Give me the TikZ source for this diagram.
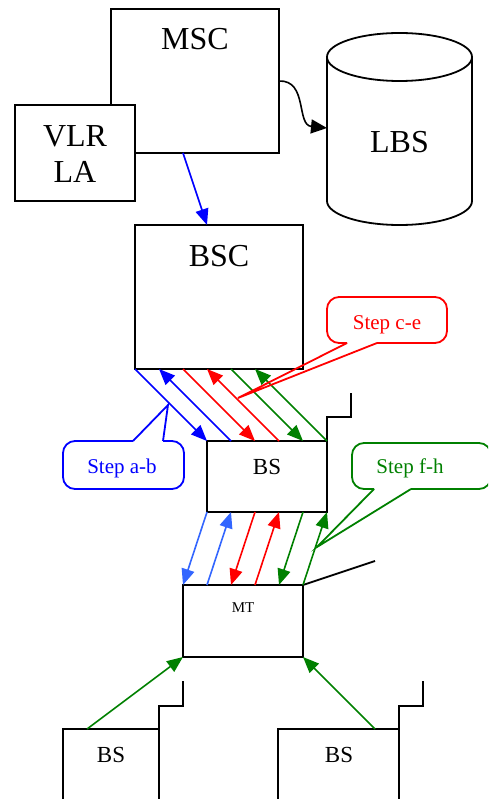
\documentclass[tikz,border=0pt]{standalone}
\usepackage{fontspec}
\setmainfont{Liberation Serif}
\usetikzlibrary{arrows.meta}
\definecolor{cblue}{RGB}{0,0,255}
\definecolor{clblue}{RGB}{51,102,255}
\definecolor{cred}{RGB}{255,0,0}
\definecolor{cgreen}{RGB}{0,128,0}
\begin{document}
\begin{tikzpicture}[x=1pt,y=-1pt,
  box/.style={draw, line width=1.8pt, inner sep=0pt, outer sep=0pt},
  big/.style={font=\fontsize{32}{36}\selectfont, inner sep=0pt, anchor=base},
  mid/.style={font=\fontsize{23}{26}\selectfont, inner sep=0pt, anchor=base},
  small/.style={font=\fontsize{15}{18}\selectfont, inner sep=0pt, anchor=base},
  calltxt/.style={font=\fontsize{21}{24}\selectfont, inner sep=0pt, anchor=base},
  conn/.style={line width=1.6pt, -{Triangle[length=16pt,width=13pt]}},
  callout/.style={line width=1.8pt, rounded corners=12pt},
  pointer/.style={line width=1.8pt, line join=miter},
  antenna/.style={line width=1.8pt}
]
\useasboundingbox (0,0) rectangle (488,799);
\clip (0,0) rectangle (488,799);

% ---- boxes ----
\node[box, minimum width=168pt, minimum height=144pt] (msc) at (195,81) {};
\node[box, fill=white, minimum width=120pt, minimum height=96pt] (vlr) at (75,153) {};
\node[box, minimum width=168pt, minimum height=144pt] (bsc) at (219,297) {};
\node[box, minimum width=120pt, minimum height=71pt] (bs) at (267,476.5) {};
\node[box, minimum width=120pt, minimum height=72pt] (mt) at (243,621) {};
\node[box, minimum width=96pt, minimum height=101pt] (bsa) at (111,779.5) {};
\node[box, minimum width=121pt, minimum height=101pt] (bsb) at (338.5,779.5) {};

% ---- LBS cylinder ----
\draw[line width=1.8pt] (327,57) -- (327,201)
  arc[start angle=180, end angle=360, x radius=72.5pt, y radius=24pt] -- (472,57);
\draw[line width=1.8pt] (399.5,57) ellipse [x radius=72.5pt, y radius=24pt];
\coordinate (lbsin) at (327,128);

% ---- labels ----
\node[big] (msct) at (195,50) {MSC};
\node[big] (vlrt) at (75,147) {VLR};
\node[big] (lat) at (75,183) {LA};
\node[big] (lbst) at (399.5,153) {LBS};
\node[big] (bsct) at (219,266) {BSC};
\node[mid] (bst) at (267,474) {BS};
\node[small] (mtt) at (243,612) {MT};
\node[mid] (bsat) at (111,762) {BS};
\node[mid] (bsbt) at (339,762) {BS};

% ---- antennas ----
\draw[antenna] (bs.north east) |- (351,417) -- (351,393);
\draw[antenna] (bsa.north east) |- (183,706) -- (183,681);
\draw[antenna] (bsb.north east) |- (423,706) -- (423,681);
\coordinate (mtant) at (375,561);
\draw[antenna] (mt.north east) -- (mtant);

% ---- MSC connectors ----
\coordinate (mscout) at (279,81);
\draw[line width=1.6pt, -{Triangle[length=16pt,width=14pt]}] (mscout)
  .. controls (308,80) and (296,125) .. (lbsin);
\coordinate (mscb) at (183,153);
\coordinate (bsctop) at (207,225);
\draw[conn, cblue] (mscb) -- (bsctop);

% ---- BSC <-> BS ----
\foreach \i in {0,...,5} {
  \coordinate (u\i) at ({135+24*\i},369);
  \coordinate (b\i) at ({207+24*\i},441);
  \coordinate (p\i) at ({207+24*\i},512);
  \coordinate (q\i) at ({183+24*\i},585);
}
\draw[conn, cblue] (u0) -- (b0);
\draw[conn, cblue] (b1) -- (u1);
\draw[conn, cred] (u2) -- (b2);
\draw[conn, cred] (b3) -- (u3);
\draw[conn, cgreen] (u4) -- (b4);
\draw[conn, cgreen] (b5) -- (u5);

% ---- BS <-> MT ----
\draw[conn, clblue] (p0) -- (q0);
\draw[conn, clblue] (q1) -- (p1);
\draw[conn, cred] (p2) -- (q2);
\draw[conn, cred] (q3) -- (p3);
\draw[conn, cgreen] (p4) -- (q4);
\draw[conn, cgreen] (q5) -- (p5);

% ---- bottom BS -> MT ----
\coordinate (bsatop) at (87,729);
\coordinate (bsbtop) at (375,729);
\draw[conn, cgreen] (bsatop) -- (mt.south west);
\draw[conn, cgreen] (bsbtop) -- (mt.south east);

% ---- callouts ----
% Step c-e
\draw[callout, cred] (377,343) -- (447,343) -- (447,297) -- (327,297) -- (327,343) -- (347,343);
\draw[pointer, cred] (347,343) -- (238,398) -- (377,343);
\node[calltxt, text=cred] (ce) at (387,329) {Step c-e};
% Step a-b
\draw[callout, cblue] (163,441) -- (184,441) -- (184,489) -- (63,489) -- (63,441) -- (133,441);
\draw[pointer, cblue] (133,441) -- (168,405) -- (163,441);
\node[calltxt, text=cblue] (ab) at (122,473) {Step a-b};
% Step f-h
\draw[callout, cgreen] (374,489) -- (352,489) -- (352,443) -- (491,443) -- (491,489) -- (411,489);
\draw[pointer, cgreen] (374,489) -- (317,547) -- (411,489);
\node[calltxt, text=cgreen] (fh) at (410,473) {Step f-h};
\end{tikzpicture}
\end{document}
